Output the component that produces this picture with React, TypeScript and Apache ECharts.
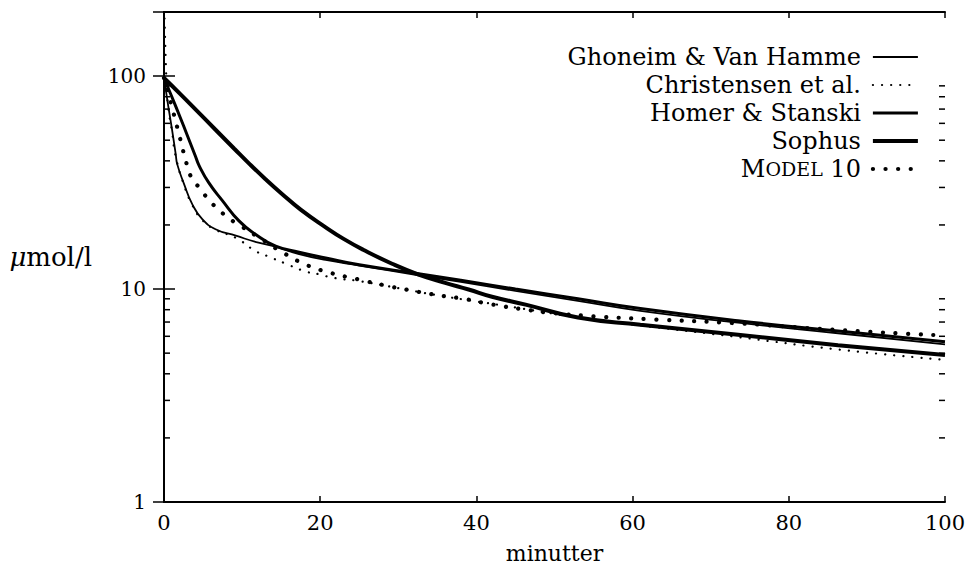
import React, { useEffect, useRef } from "react";
import * as echarts from "echarts";

// minutes / µmol/l
const ghoneimT = [0, 0.5, 1, 1.5, 1.7, 2.56, 3.6, 4.9, 6.6, 9.2, 12.1, 14.3, 17.3, 20.7, 25, 32.6, 38, 45, 53, 61, 73.5, 86.3, 100];
const ghoneimV = [98, 74, 57, 43, 38.5, 31.2, 25.1, 21.3, 19.1, 17.8, 16.5, 15.8, 14.6, 13.7, 12.9, 11.6, 10.8, 9.8, 8.8, 7.9, 6.95, 6.2, 5.5];

const christensenT = [0, 0.25, 0.5, 1, 1.5, 2.56, 3.6, 4.9, 6.6, 9.2, 11.7, 13.2, 15.5, 18.1, 20, 21.6, 25, 30, 35, 40, 45, 50, 55, 61, 73.5, 86.3, 100];
const christensenV = [250, 110, 73, 56, 42, 30.8, 24.9, 21.1, 19.0, 17.4, 15.1, 14.3, 13.2, 12.1, 11.7, 11.3, 10.9, 10.1, 9.35, 8.75, 8.2, 7.65, 7.2, 6.75, 5.95, 5.2, 4.65];

const homerT = [0, 1, 2, 3, 4.05, 4.48, 5.75, 7.45, 9.6, 11.7, 14.3, 17.3, 20.7, 25, 32.6, 38, 45, 53, 61, 73.5, 86.3, 100];
const homerV = [98, 80, 65, 52.5, 41.8, 38.1, 31.5, 26.1, 20.9, 18.1, 15.9, 14.9, 14.0, 13.0, 11.8, 11.0, 10.0, 9.0, 8.1, 7.1, 6.35, 5.65];

const sophusT = [0, 2, 4, 6.6, 9, 11, 13, 15, 17.5, 20.7, 23, 25.5, 29.2, 32.6, 36, 39, 42, 46.3, 53, 61, 73.5, 86.3, 100];
const sophusV = [98, 83, 70, 56, 45.6, 38.5, 32.8, 28.2, 23.6, 19.5, 17.2, 15.3, 13.15, 11.7, 10.7, 9.95, 9.2, 8.45, 7.35, 6.8, 6.1, 5.45, 4.9];

const model10T = [0, 1, 2, 3, 3.6, 4.7, 5.75, 7, 8.3, 9.8, 12.1, 15, 18, 21, 24.9, 28.3, 31.8, 35.2, 38.6, 41.8, 46.3, 50, 55, 62, 73.5, 86.3, 100];
const model10V = [98, 72, 52, 37.6, 33, 29.4, 26.2, 23.6, 21.5, 19.8, 17.5, 15.0, 13.1, 12.0, 11.1, 10.4, 9.82, 9.34, 8.97, 8.49, 8.0, 7.7, 7.45, 7.22, 6.9, 6.42, 6.05];

const seriesNames = ["Ghoneim & Van Hamme", "Christensen et al.", "Homer & Stanski", "Sophus", "Model 10"];
const xTicks = [0, 20, 40, 60, 80, 100];
const yTickLabels = [1, 10, 100];
const minorTickValues = [2, 3, 4, 5, 6, 7, 8, 9, 20, 30, 40, 50, 60, 70, 80, 90, 200];

const FONT = "DejaVu Serif";

function zip(t: number[], v: number[]) {
  return t.map((x, i) => [x, v[i]]);
}

export default function App() {
  const ref = useRef<HTMLDivElement>(null);
  useEffect(() => {
    if (!ref.current) return;
    const chart = echarts.init(ref.current, undefined, { renderer: "svg" });
    const styles: any[] = [
      { width: 1.8, type: "solid", cap: "butt" },
      { width: 2.2, type: [0.1, 9], cap: "round" },
      { width: 3, type: "solid", cap: "butt" },
      { width: 4, type: "solid", cap: "butt" },
      { width: 4.2, type: [0.1, 12.5], cap: "round" },
    ];
    const datasets = [
      zip(ghoneimT, ghoneimV),
      zip(christensenT, christensenV),
      zip(homerT, homerV),
      zip(sophusT, sophusV),
      zip(model10T, model10V),
    ];
    const axisLine = { show: true, lineStyle: { color: "#000", width: 2 } };
    const option: any = {
      animation: false,
      backgroundColor: "#fff",
      textStyle: { fontFamily: FONT, color: "#000" },
      grid: { left: 164, right: 26, top: 12, bottom: 70 },
      xAxis: [
        {
          type: "value",
          min: xTicks[0],
          max: xTicks[xTicks.length - 1],
          interval: 20,
          position: "bottom",
          name: "minutter",
          nameLocation: "middle",
          nameGap: 40,
          nameTextStyle: { fontFamily: FONT, fontSize: 22, color: "#000" },
          axisLine,
          axisTick: { show: true, inside: true, length: 6, lineStyle: { color: "#000", width: 1.5 } },
          axisLabel: { color: "#000", fontFamily: FONT, fontSize: 21, margin: 10 },
          splitLine: { show: false },
        },
        {
          type: "value",
          min: xTicks[0],
          max: xTicks[xTicks.length - 1],
          interval: 20,
          position: "top",
          axisLine,
          axisTick: { show: true, inside: true, length: 6, lineStyle: { color: "#000", width: 1.5 } },
          axisLabel: { show: false },
          splitLine: { show: false },
        },
      ],
      yAxis: [
        {
          type: "log",
          logBase: 10,
          min: 1,
          max: 200,
          position: "left",
          name: "{i|μ}mol/l",
          nameLocation: "middle",
          nameRotate: 0,
          nameGap: 72,
          nameTextStyle: {
            fontFamily: FONT,
            fontSize: 26,
            color: "#000",
            rich: { i: { fontFamily: FONT, fontStyle: "italic", fontSize: 26, color: "#000" } },
          },
          axisLine,
          axisTick: { show: true, inside: true, length: 11, lineStyle: { color: "#000", width: 1.5 } },
          axisLabel: {
            color: "#000",
            fontFamily: FONT,
            fontSize: 20,
            margin: 18,
            formatter: (v: number) => (yTickLabels.indexOf(Math.round(v)) >= 0 ? String(Math.round(v)) : ""),
          },
          splitLine: { show: false },
        },
        {
          type: "log",
          logBase: 10,
          min: 1,
          max: 200,
          position: "right",
          axisLine,
          axisTick: { show: true, inside: true, length: 11, lineStyle: { color: "#000", width: 1.5 } },
          axisLabel: { show: false },
          splitLine: { show: false },
        },
      ],
      legend: {
        orient: "vertical",
        align: "right",
        right: 51,
        top: 45,
        padding: 0,
        itemGap: 4,
        itemWidth: 45,
        itemHeight: 14,
        selectedMode: false,
        itemStyle: { opacity: 0 },
        textStyle: {
          fontFamily: FONT,
          fontSize: 24,
          lineHeight: 24,
          color: "#000",
          padding: [0, 7, 0, 0],
          rich: {
            a: { fontFamily: FONT, fontSize: 24, color: "#000" },
            b: { fontFamily: FONT, fontSize: 19, color: "#000" },
          },
        },
        formatter: (name: string) => (name === "Model 10" ? "{a|M}{b|ODEL}{a| 10}" : name),
        data: seriesNames.map((n, i) => ({ name: n, lineStyle: { ...styles[i], color: "#000" }, itemStyle: { opacity: 0 } })),
      },
      series: [
        ...seriesNames.map((n, i) => ({
          name: n,
          type: "line",
          data: datasets[i],
          symbol: "none",
          smooth: 0.5,
          clip: true,
          lineStyle: { color: "#000", ...styles[i] },
          itemStyle: { color: "#000" },
          z: 3,
        })),
        {
          name: "minorTicks",
          type: "custom",
          silent: true,
          data: minorTickValues.map((v) => [0, v]),
          renderItem: (params: any, api: any) => {
            const v = api.value(1);
            const l = api.coord([0, v]);
            const r = api.coord([100, v]);
            return {
              type: "group",
              children: [
                { type: "line", shape: { x1: l[0], y1: l[1], x2: l[0] + 6, y2: l[1] }, style: { stroke: "#000", lineWidth: 1.5 } },
                { type: "line", shape: { x1: r[0] - 6, y1: r[1], x2: r[0], y2: r[1] }, style: { stroke: "#000", lineWidth: 1.5 } },
              ],
            };
          },
          z: 4,
        },
      ],
    };
    chart.setOption(option);
    return () => chart.dispose();
  }, []);
  return <div ref={ref} style={{ position: "fixed", left: 0, top: 0, width: 971, height: 572, background: "#fff" }} />;
}
